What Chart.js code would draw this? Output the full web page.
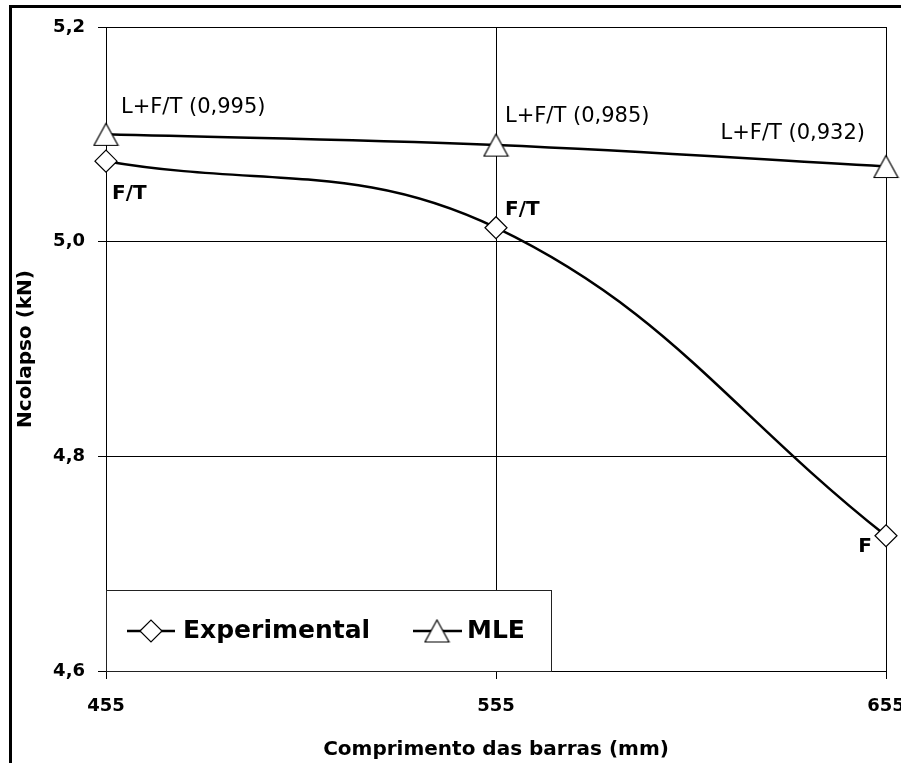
<!DOCTYPE html>
<html>
<head>
<meta charset="utf-8">
<script src="https://cdn.jsdelivr.net/npm/chart.js@4.4.1/dist/chart.umd.min.js"></script>
<style>
  html, body { margin: 0; padding: 0; background: #fff; }
  canvas { display: block; }
</style>
</head>
<body>
<canvas id="chart" width="901" height="763"></canvas>
<script>
// values
const lengths = [455, 555, 655];
const experimental = [5.075, 5.013, 4.726];
const mle = [5.100, 5.090, 5.070];
const yTicks = [4.6, 4.8, 5.0, 5.2];
const seriesNames = ["Experimental", "MLE"];
const experimentalNotes = ["F/T", "F/T", "F"];
const mleNotes = ["L+F/T (0,995)", "L+F/T (0,985)", "L+F/T (0,932)"];

const FONT = "DejaVu Sans";

// triangle marker centred on its bounding box (like Excel)
function makeTriangle() {
  const c = document.createElement("canvas");
  c.width = 27; c.height = 25;
  const g = c.getContext("2d");
  g.beginPath();
  g.moveTo(13.5, 1.5);
  g.lineTo(25.5, 23.5);
  g.lineTo(1.5, 23.5);
  g.closePath();
  g.fillStyle = "#fff";
  g.fill();
  g.lineWidth = 1.2;
  g.strokeStyle = "#000";
  g.stroke();
  return c;
}
const triangle = makeTriangle();

function drawDiamond(ctx, x, y, r) {
  ctx.beginPath();
  ctx.moveTo(x - r, y);
  ctx.lineTo(x, y - r);
  ctx.lineTo(x + r, y);
  ctx.lineTo(x, y + r);
  ctx.closePath();
  ctx.fillStyle = "#fff";
  ctx.fill();
  ctx.lineWidth = 1.2;
  ctx.strokeStyle = "#000";
  ctx.stroke();
}

// label offsets (px) from each point
const expOffsets = [
  { dx: 6, dy: 33, align: "left" },
  { dx: 9, dy: -18, align: "left" },
  { dx: -14, dy: 11, align: "right" }
];
const mleOffsets = [
  { dx: 15, dy: -27, align: "left" },
  { dx: 9, dy: -29, align: "left" },
  { dx: -21, dy: -33, align: "right" }
];

const extras = {
  id: "extras",
  afterDatasetsDraw(chart) {
    const ctx = chart.ctx;
    const xs = chart.scales.x, ys = chart.scales.y;
    const area = chart.chartArea;
    ctx.save();
    ctx.fillStyle = "#000";
    ctx.textBaseline = "middle";

    ctx.font = "normal 21px '" + FONT + "'";
    mleNotes.forEach((t, i) => {
      const o = mleOffsets[i];
      ctx.textAlign = o.align;
      ctx.fillText(t, xs.getPixelForValue(lengths[i]) + o.dx, ys.getPixelForValue(mle[i]) + o.dy);
    });
    ctx.font = "bold 20px '" + FONT + "'";
    experimentalNotes.forEach((t, i) => {
      const o = expOffsets[i];
      ctx.textAlign = o.align;
      ctx.fillText(t, xs.getPixelForValue(lengths[i]) + o.dx, ys.getPixelForValue(experimental[i]) + o.dy);
    });

    // legend box, bottom-left inside the plot
    const lx = area.left, ly = area.bottom - 81, lw = 445, lh = 81;
    ctx.fillStyle = "#fff";
    ctx.fillRect(lx, ly, lw, lh);
    ctx.strokeStyle = "#222";
    ctx.lineWidth = 1;
    ctx.strokeRect(lx + 0.5, ly + 0.5, lw, lh);
    const cy = ly + 41;
    ctx.strokeStyle = "#000";
    ctx.lineWidth = 2.5;
    ctx.beginPath();
    ctx.moveTo(lx + 21, cy); ctx.lineTo(lx + 69, cy);
    ctx.moveTo(lx + 307, cy); ctx.lineTo(lx + 356, cy);
    ctx.stroke();
    drawDiamond(ctx, lx + 45, cy, 11);
    ctx.drawImage(triangle, lx + 331 - 13.5, cy - 12.5);
    ctx.fillStyle = "#000";
    ctx.textAlign = "left";
    ctx.font = "bold 25px '" + FONT + "'";
    ctx.fillText(seriesNames[0], lx + 77, cy);
    ctx.fillText(seriesNames[1], lx + 361, cy);
    ctx.restore();
  },
  afterDraw(chart) {
    const ctx = chart.ctx;
    ctx.save();
    ctx.strokeStyle = "#000";
    ctx.lineWidth = 3;
    ctx.strokeRect(10.5, 6.5, 2000, 2000);
    ctx.restore();
  }
};

const axisFont = { family: FONT, size: 18, weight: "bold" };
const titleFont = { family: FONT, size: 20, weight: "bold" };

new Chart(document.getElementById("chart").getContext("2d"), {
  type: "line",
  data: {
    datasets: [
      {
        label: seriesNames[0],
        data: lengths.map((x, i) => ({ x: x, y: experimental[i] })),
        borderColor: "#000",
        borderWidth: 2.5,
        tension: 0.4,
        pointStyle: "rectRot",
        pointRadius: 11,
        pointBackgroundColor: "#fff",
        pointBorderColor: "#000",
        pointBorderWidth: 1.2,
        clip: false
      },
      {
        label: seriesNames[1],
        data: lengths.map((x, i) => ({ x: x, y: mle[i] })),
        borderColor: "#000",
        borderWidth: 2.5,
        tension: 0.4,
        pointStyle: triangle,
        pointRadius: 12,
        clip: false
      }
    ]
  },
  options: {
    responsive: false,
    animation: false,
    devicePixelRatio: 1,
    layout: { padding: { top: 27, right: 15, left: 0, bottom: 0 } },
    plugins: {
      legend: { display: false },
      tooltip: { enabled: false }
    },
    scales: {
      x: {
        type: "linear",
        min: 455,
        max: 655,
        afterBuildTicks: (s) => { s.ticks = lengths.map(v => ({ value: v })); },
        afterFit: (s) => { s.height = 92; s.paddingLeft = 0; s.paddingRight = 0; },
        grid: { color: "#000", lineWidth: 1, tickLength: 8, tickColor: "#000" },
        border: { color: "#000", width: 1 },
        ticks: {
          color: "#000",
          padding: 17,
          maxRotation: 0,
          font: axisFont,
          callback: (v) => String(v)
        },
        title: {
          display: true,
          text: "Comprimento das barras (mm)",
          color: "#000",
          font: titleFont,
          padding: { top: 0, bottom: 1 }
        }
      },
      y: {
        min: 4.6,
        max: 5.2,
        afterBuildTicks: (s) => { s.ticks = yTicks.map(v => ({ value: v })); },
        afterFit: (s) => { s.width = 106; s.paddingTop = 0; s.paddingBottom = 0; },
        grid: { color: "#000", lineWidth: 1, tickLength: 8, tickColor: "#000" },
        border: { color: "#000", width: 1 },
        ticks: {
          color: "#000",
          padding: 13,
          font: axisFont,
          callback: (v) => v.toFixed(1).replace(".", ",")
        },
        title: {
          display: true,
          text: "Ncolapso (kN)",
          color: "#000",
          font: titleFont,
          padding: { top: 14, bottom: 0 }
        }
      }
    }
  },
  plugins: [extras]
});
</script>
</body>
</html>
